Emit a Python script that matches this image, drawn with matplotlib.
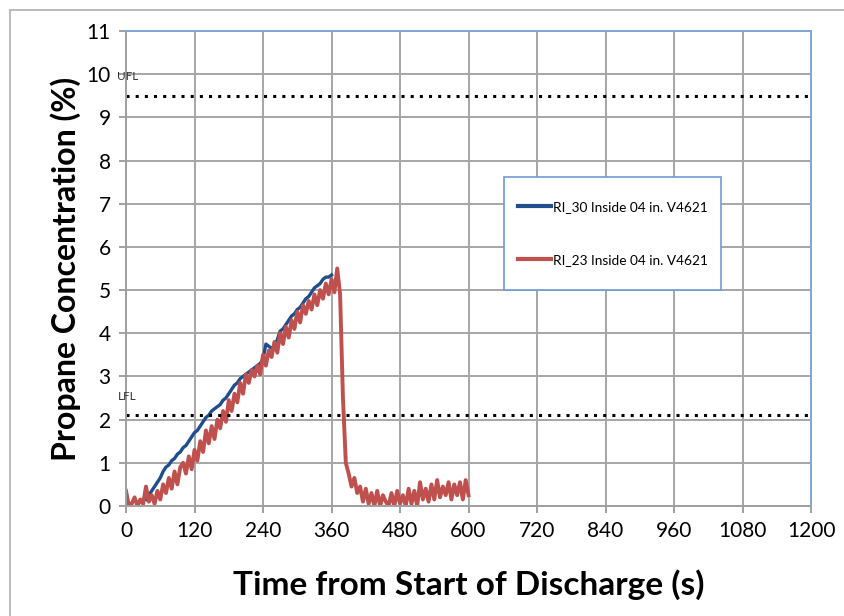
import matplotlib
matplotlib.use('Agg')
import matplotlib.pyplot as plt
from matplotlib.lines import Line2D
from matplotlib.patches import Rectangle

# time axis (s) and concentration (%)
t_red = list(range(0, 605, 5))
ri23 = [0.35, 0.0, 0.05, 0.2, 0.0, 0.15, 0.05, 0.45, 0.1, 0.25,
        0.05, 0.35, 0.15, 0.5, 0.3, 0.65, 0.4, 0.8, 0.5, 0.9,
        1.0, 0.75, 1.15, 0.85, 1.3, 1.05, 1.5, 1.25, 1.75, 1.45,
        1.85, 1.55, 2.0, 1.8, 2.2, 1.95, 2.45, 2.2, 2.6, 2.4,
        2.85, 2.6, 3.05, 2.85, 3.15, 3.0, 3.25, 3.05, 3.5, 3.25,
        3.6, 3.45, 3.8, 3.55, 4.0, 3.75, 4.15, 3.9, 4.3, 4.1,
        4.5, 4.25, 4.65, 4.45, 4.75, 4.55, 4.9, 4.65, 5.0, 4.8,
        5.15, 4.9, 5.25, 4.95, 5.5, 4.9, 2.5, 1.0, 0.75, 0.45,
        0.65, 0.3, 0.45, 0.1, 0.4, 0.05, 0.3, 0.0, 0.35, 0.0,
        0.25, 0.1, 0.0, 0.3, 0.0, 0.35, 0.05, 0.25, 0.0, 0.4,
        0.05, 0.35, 0.0, 0.55, 0.15, 0.4, 0.1, 0.5, 0.15, 0.6,
        0.2, 0.45, 0.25, 0.55, 0.15, 0.5, 0.25, 0.55, 0.15, 0.6, 0.25]

t_blue = list(range(35, 365, 5))
ri30 = [0.15, 0.25, 0.35, 0.45, 0.55, 0.65, 0.8, 0.9, 0.95, 1.05,
        1.1, 1.2, 1.25, 1.35, 1.4, 1.5, 1.6, 1.7, 1.75, 1.85,
        1.95, 2.05, 2.1, 2.2, 2.25, 2.3, 2.35, 2.45, 2.5, 2.6,
        2.7, 2.8, 2.85, 2.95, 3.0, 3.05, 3.1, 3.15, 3.2, 3.25,
        3.3, 3.4, 3.75, 3.7, 3.65, 3.7, 3.85, 4.05, 4.1, 4.2,
        4.3, 4.4, 4.45, 4.55, 4.6, 4.7, 4.8, 4.85, 4.95, 5.05,
        5.1, 5.15, 5.25, 5.3, 5.3, 5.35]

ufl = 9.5
lfl = 2.1
x_ticks = list(range(0, 1201, 120))
y_ticks = list(range(0, 12))

plt.rcParams['font.family'] = ['Lato', 'DejaVu Sans']

fig = plt.figure(figsize=(8.44, 6.16), dpi=100)
ax = fig.add_axes([0.1493, 0.1786, 0.8117, 0.7711])

# outer frame of the original picture
fig.add_artist(Line2D([10/844, 1], [1 - 10/616, 1 - 10/616], color='#b0b0b0', lw=1.2))
fig.add_artist(Line2D([10/844, 10/844], [0, 1 - 10/616], color='#b0b0b0', lw=1.2))

ax.plot(t_blue, ri30, color='#1f4e8c', lw=2.4, label='RI_30 Inside 04 in. V4621')
ax.plot(t_red, ri23, color='#c0504d', lw=2.8, label='RI_23 Inside 04 in. V4621')

ax.axhline(ufl, color='black', ls=(0, (1, 2)), lw=2.2)
ax.axhline(lfl, color='black', ls=(0, (1, 2)), lw=2.2)
ax.text(-15, ufl + 0.45, 'UFL', fontsize=8.5, color='#333333', va='center', ha='left')
ax.text(-15, lfl + 0.43, 'LFL', fontsize=8.5, color='#333333', va='center', ha='left')

ax.set_xlim(0, 1200)
ax.set_ylim(0, 11)
ax.set_xticks(x_ticks)
ax.set_yticks(y_ticks)
ax.grid(True, color='#a6a6a6', lw=1.4)
ax.set_axisbelow(True)

for side in ['left', 'bottom']:
    ax.spines[side].set_color('#a0a0a0')
    ax.spines[side].set_linewidth(1.4)
for side in ['top', 'right']:
    ax.spines[side].set_color('#7fa6d9')
    ax.spines[side].set_linewidth(1.4)
ax.tick_params(axis='both', direction='out', length=5, width=1.4, color='#a0a0a0',
               labelsize=15, pad=6)

ax.set_xlabel('Time from Start of Discharge (s)', fontsize=24, fontweight='bold', labelpad=20)
ax.set_ylabel('Propane Concentration (%)', fontsize=23, fontweight='bold', labelpad=4)

# legend box
box = Rectangle((504/844, 1 - 290/616), 217/844, 113/616, transform=fig.transFigure,
                facecolor='white', edgecolor='#6f9bd6', lw=1.2, zorder=5)
ax.add_patch(box)
leg = ax.legend(loc='center', bbox_to_anchor=(0.711, 0.574), frameon=False,
                fontsize=9.8, handlelength=2.4, handletextpad=0.2, labelspacing=3.0)
leg.set_zorder(6)
leg.get_lines()[0].set_linewidth(3)
leg.get_lines()[1].set_linewidth(3)

fig.savefig('out.png', dpi=100)
